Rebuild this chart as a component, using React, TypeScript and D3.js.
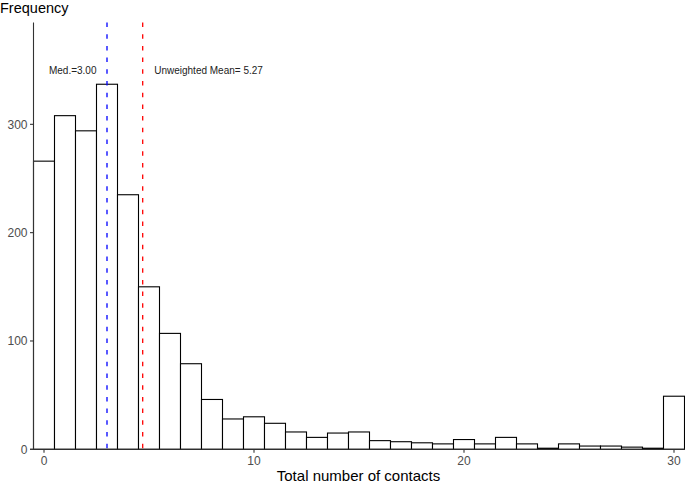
import React from "react";
import * as d3 from "d3";

const binCenters = [0,1,2,3,4,5,6,7,8,9,10,11,12,13,14,15,16,17,18,19,20,21,22,23,24,25,26,27,28,29,30];
const counts = [266,308,294,337,235,150,107,79,46,28,30,24,16,11,15,16,8,7,6,5,9,5,11,5,1,5,3,3,2,1,49];
const xTicks = [0,10,20,30];
const yTicks = [0,100,200,300];
const medianValue = 3.0;
const medianLabel = "Med.=3.00";
const meanLinePos = 4.7;
const meanLabel = "Unweighted Mean= 5.27";

const W = 685, H = 484;

export default function App() {
  const x = d3.scaleLinear().domain([0, 30]).range([44, 674]);
  const y = d3.scaleLinear().domain([0, 394]).range([449.3, 22.5]);
  const panelLeft = x(-0.5);
  const font = "'Liberation Sans', Arial, Helvetica, sans-serif";
  return (
    <svg width={W} height={H} style={{ position: "absolute", left: 0, top: 0, background: "#fff" }} fontFamily={font}>
      {binCenters.map((c, i) => (
        <rect key={i} x={x(c - 0.5)} y={y(counts[i])} width={x(c + 0.5) - x(c - 0.5)} height={y(0) - y(counts[i])}
          fill="#fff" stroke="#000" strokeWidth={1.1} />
      ))}
      <line x1={x(medianValue)} x2={x(medianValue)} y1={y(394)} y2={y(0)} stroke="#0000ff" strokeWidth={1.3} strokeDasharray="4.5,7.2" />
      <line x1={x(meanLinePos)} x2={x(meanLinePos)} y1={y(394)} y2={y(0)} stroke="#ff0000" strokeWidth={1.3} strokeDasharray="4.5,7.2" />
      <text x={x(medianValue) - 10.5} y={74} fontSize={10} textAnchor="end" fill="#222">{medianLabel}</text>
      <text x={x(meanLinePos) + 11.5} y={74} fontSize={10} fill="#222">{meanLabel}</text>
      <line x1={panelLeft} x2={panelLeft} y1={y(394)} y2={y(0)} stroke="#333" strokeWidth={1.1} />
      <line x1={30} x2={W} y1={y(0)} y2={y(0)} stroke="#333" strokeWidth={1.1} />
      {yTicks.map(t => (
        <g key={t}>
          <line x1={panelLeft - 3.5} x2={panelLeft} y1={y(t)} y2={y(t)} stroke="#333" strokeWidth={1.1} />
          <text x={panelLeft - 6} y={y(t)} dy="0.35em" fontSize={12} textAnchor="end" fill="#4d4d4d">{t}</text>
        </g>
      ))}
      {xTicks.map(t => (
        <g key={t}>
          <line x1={x(t)} x2={x(t)} y1={y(0)} y2={y(0) + 3.5} stroke="#333" strokeWidth={1.1} />
          <text x={x(t)} y={465} fontSize={12} textAnchor="middle" fill="#4d4d4d">{t}</text>
        </g>
      ))}
      <text x={0} y={13} fontSize={14.5} fill="#000">Frequency</text>
      <text x={358.5} y={481} fontSize={15} textAnchor="middle" fill="#000">Total number of contacts</text>
    </svg>
  );
}
